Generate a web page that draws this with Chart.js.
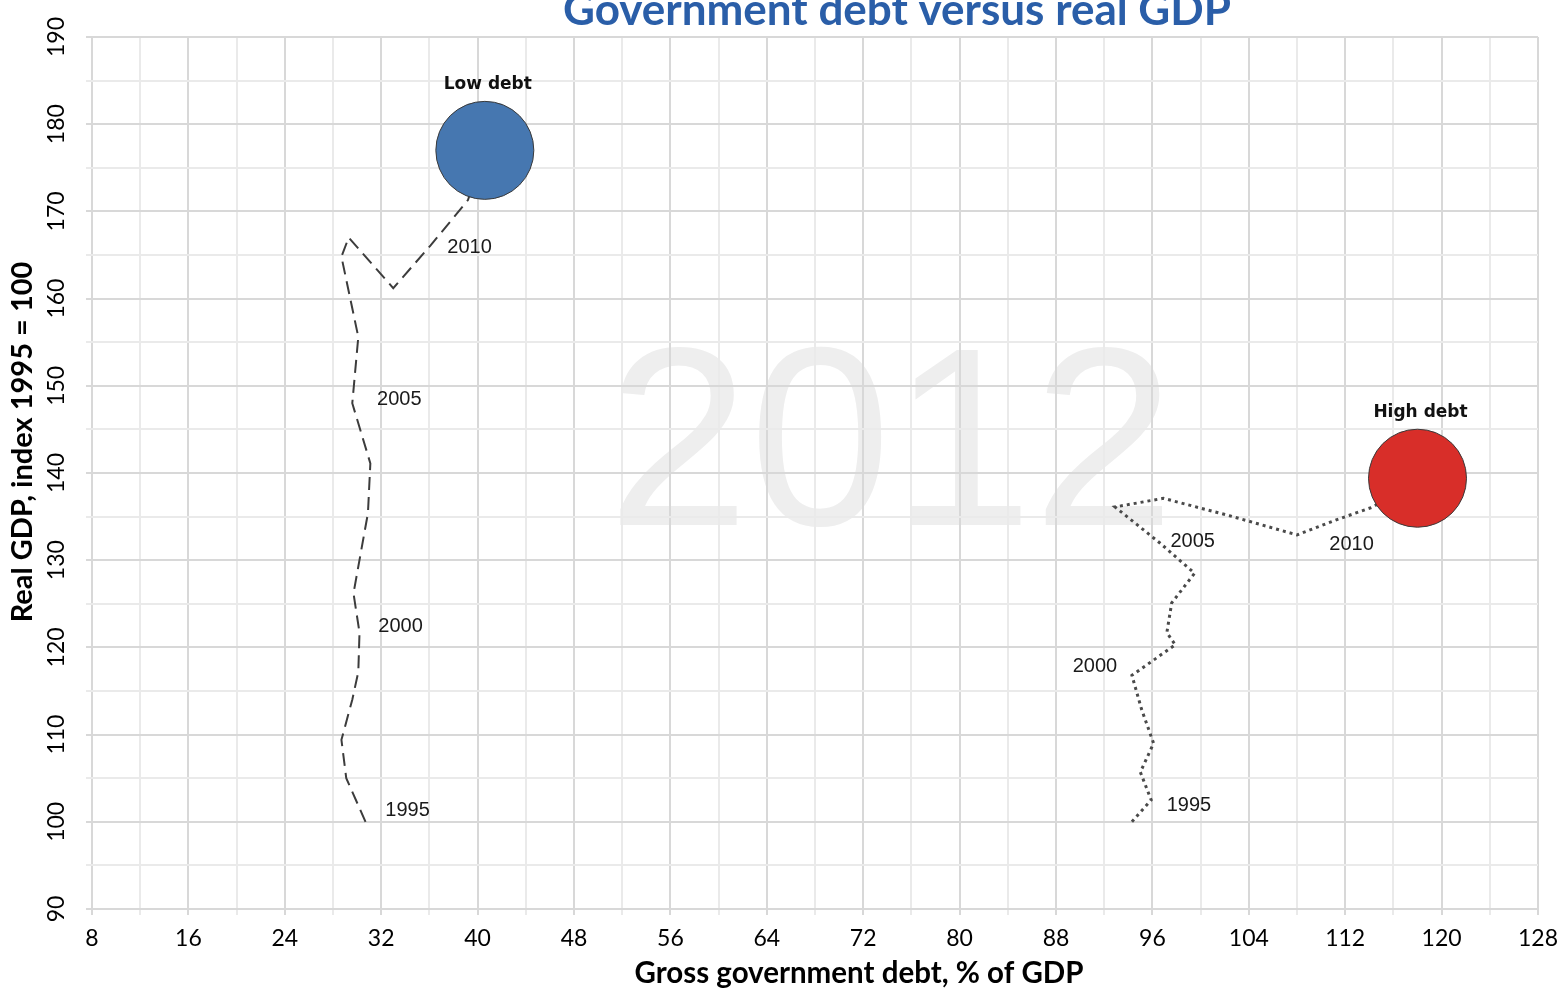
<!DOCTYPE html>
<html>
<head>
<meta charset="utf-8">
<title>Government debt versus real GDP</title>
<script src="https://cdn.jsdelivr.net/npm/chart.js@4.4.1/dist/chart.umd.min.js"></script>
<style>
  html, body { margin: 0; padding: 0; background: #fff; }
</style>
</head>
<body>
<canvas id="chart" width="1559" height="989"></canvas>
<script>
// years of the two paths, 1995 .. 2012
var years = [1995, 1996, 1997, 1998, 1999, 2000, 2001, 2002, 2003, 2004,
             2005, 2006, 2007, 2008, 2009, 2010, 2011, 2012];

// low debt group: debt % of GDP, real GDP index
var lowDebtX = [30.7, 29.1, 28.7, 29.6, 30.1, 30.2, 29.7, 30.3, 30.9, 31.1,
                29.6, 30.1, 28.7, 29.3, 33.0, 36.1, 39.2, 40.6];
var lowDebtY = [100.0, 105.0, 109.4, 114.0, 117.2, 121.7, 126.2, 130.8, 135.4, 141.1,
                148.0, 155.6, 164.8, 167.0, 161.2, 166.1, 171.3, 177.0];

// high debt group
var highDebtX = [94.3, 95.9, 95.0, 96.1, 95.1, 94.3, 97.9, 97.2, 97.6, 99.5,
                 96.6, 92.9, 96.9, 102.4, 108.0, 111.2, 114.3, 118.0];
var highDebtY = [100.0, 102.5, 105.7, 109.0, 112.9, 116.8, 120.3, 121.7, 125.1, 128.5,
                 132.0, 136.1, 137.1, 135.1, 132.9, 134.6, 136.1, 139.4];

var labelYears = [1995, 2000, 2005, 2010];
var groupNames = ['Low debt', 'High debt'];

var xTickLabels = [8, 16, 24, 32, 40, 48, 56, 64, 72, 80, 88, 96, 104, 112, 120, 128];
var yTickLabels = [90, 100, 110, 120, 130, 140, 150, 160, 170, 180, 190];

function toPoints(xs, ys) {
  var pts = [];
  for (var i = 0; i < xs.length; i++) {
    pts.push({ x: xs[i], y: ys[i] });
  }
  return pts;
}

var lowPoints = toPoints(lowDebtX, lowDebtY);
var highPoints = toPoints(highDebtX, highDebtY);

// where the year labels sit next to their point (pixels)
var yearLabelOffsets = [
  [[42, -11], [41, -6], [47, -4], [39, 2]],
  [[57, -16], [-37, -9], [33, -1], [16, 24]]
];

var majorGrid = 'rgb(216,216,216)';
var minorGrid = 'rgb(234,234,234)';

var watermark = {
  id: 'watermark',
  beforeDraw: function(chart) {
    var ctx = chart.ctx;
    var a = chart.chartArea;
    ctx.save();
    ctx.fillStyle = 'rgb(238,238,238)';
    ctx.font = '255px "Liberation Sans", Arial, sans-serif';
    ctx.textAlign = 'center';
    ctx.textBaseline = 'middle';
    ctx.fillText(String(years[years.length - 1]),
      a.left + (a.right - a.left) * 0.5526,
      a.top + (a.bottom - a.top) * 0.4794);
    ctx.restore();
  }
};

var annotations = {
  id: 'annotations',
  afterDatasetsDraw: function(chart) {
    var ctx = chart.ctx;
    var a = chart.chartArea;
    ctx.save();
    ctx.textAlign = 'center';

    // chart title, partly cut off at the top edge
    ctx.fillStyle = 'rgb(42,94,168)';
    ctx.font = 'bold 44px Lato, "Open Sans", sans-serif';
    ctx.textBaseline = 'alphabetic';
    ctx.fillText('Government debt versus real GDP', (a.left + a.right) / 2 + 82, 25);
    ctx.textBaseline = 'middle';

    // year labels along the two paths (datasets 2 and 3)
    ctx.fillStyle = '#1a1a1a';
    ctx.font = '20px "Liberation Sans", Arial, sans-serif';
    for (var g = 0; g < 2; g++) {
      var meta = chart.getDatasetMeta(g + 2);
      for (var k = 0; k < labelYears.length; k++) {
        var el = meta.data[years.indexOf(labelYears[k])];
        var off = yearLabelOffsets[g][k];
        ctx.fillText(String(labelYears[k]), el.x + off[0], el.y + off[1]);
      }
    }

    // group names above the bubbles
    ctx.font = 'bold 17px "DejaVu Sans", Verdana, sans-serif';
    ctx.fillStyle = '#111';
    for (var b = 0; b < 2; b++) {
      var bub = chart.getDatasetMeta(b).data[0];
      ctx.fillText(groupNames[b], bub.x + 3, bub.y - 66);
    }

    // axis titles
    ctx.fillStyle = '#000';
    ctx.font = 'bold 29.5px Lato, "Open Sans", sans-serif';
    ctx.fillText('Gross government debt, % of GDP', (a.left + a.right) / 2 + 44, a.bottom + 64);
    ctx.font = 'bold 29px Lato, "Open Sans", sans-serif';
    ctx.translate(23, (a.top + a.bottom) / 2 - 31);
    ctx.rotate(-Math.PI / 2);
    ctx.fillText('Real GDP, index 1995 = 100', 0, 0);
    ctx.restore();
  }
};

new Chart(document.getElementById('chart'), {
  type: 'scatter',
  data: {
    datasets: [
      {
        type: 'bubble',
        label: groupNames[0],
        data: [lowPoints[lowPoints.length - 1]],
        radius: 49,
        backgroundColor: 'rgb(70,119,176)',
        borderColor: '#3a3a3a',
        borderWidth: 1,
        order: 0
      },
      {
        type: 'bubble',
        label: groupNames[1],
        data: [highPoints[highPoints.length - 1]],
        radius: 49,
        backgroundColor: 'rgb(216,46,41)',
        borderColor: '#3a3a3a',
        borderWidth: 1,
        order: 0
      },
      {
        label: groupNames[0] + ' path',
        data: lowPoints,
        showLine: true,
        borderColor: '#3c3c3c',
        borderWidth: 2,
        borderDash: [13, 7],
        pointRadius: 0,
        tension: 0,
        order: 1
      },
      {
        label: groupNames[1] + ' path',
        data: highPoints,
        showLine: true,
        borderColor: '#4a4a4a',
        borderWidth: 3,
        borderDash: [3, 4],
        pointRadius: 0,
        tension: 0,
        order: 1
      }
    ]
  },
  options: {
    responsive: false,
    animation: false,
    layout: { autoPadding: false, padding: { left: 0, right: 21, top: 37, bottom: 0 } },
    plugins: {
      legend: { display: false },
      tooltip: { enabled: false },
      title: { display: false }
    },
    scales: {
      x: {
        type: 'linear',
        min: xTickLabels[0],
        max: xTickLabels[xTickLabels.length - 1],
        afterFit: function(scale) {
          scale.height = 80;
          scale.paddingLeft = 0;
          scale.paddingRight = 0;
        },
        ticks: {
          stepSize: 4,
          autoSkip: false,
          maxRotation: 0,
          padding: 10,
          color: '#000',
          font: { family: 'Lato', size: 23 },
          callback: function(v) { return xTickLabels.indexOf(v) >= 0 ? String(v) : ''; }
        },
        grid: {
          lineWidth: 2,
          tickLength: 6,
          color: function(c) { return xTickLabels.indexOf(c.tick && c.tick.value) >= 0 ? majorGrid : minorGrid; }
        },
        border: { display: false }
      },
      y: {
        type: 'linear',
        min: yTickLabels[0],
        max: yTickLabels[yTickLabels.length - 1],
        afterFit: function(scale) {
          scale.width = 92;
          scale.paddingTop = 0;
          scale.paddingBottom = 0;
        },
        ticks: {
          stepSize: 5,
          autoSkip: false,
          minRotation: 90,
          maxRotation: 90,
          crossAlign: 'center',
          padding: 9,
          color: '#000',
          font: { family: 'Lato', size: 23 },
          callback: function(v) { return yTickLabels.indexOf(v) >= 0 ? String(v) : ''; }
        },
        grid: {
          lineWidth: 2,
          tickLength: 6,
          color: function(c) { return yTickLabels.indexOf(c.tick && c.tick.value) >= 0 ? majorGrid : minorGrid; }
        },
        border: { display: false }
      }
    }
  },
  plugins: [watermark, annotations]
});
</script>
</body>
</html>
